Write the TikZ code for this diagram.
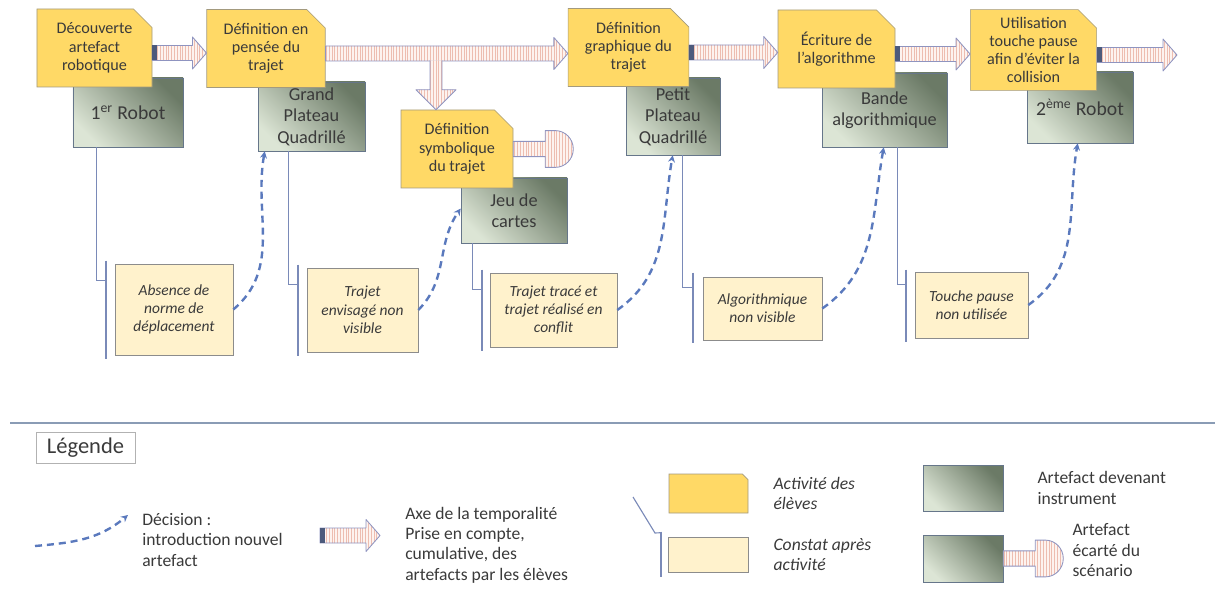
\documentclass[tikz,border=0pt]{standalone}
\usepackage{fontspec}
\setmainfont{Carlito}
\usepackage{tikz}
\usetikzlibrary{shapes.misc, arrows.meta, positioning, calc, patterns.meta}
\definecolor{ActYellow}{HTML}{FFD966}
\definecolor{ActEdge}{HTML}{A39A7E}
\definecolor{ConstatFill}{HTML}{FFF2CC}
\definecolor{ConstatEdge}{HTML}{8C8C8C}
\definecolor{ArtLight}{HTML}{DCE5D5}
\definecolor{ArtDark}{HTML}{6B7A66}
\definecolor{ArtEdge}{HTML}{66768A}
\definecolor{CallLine}{HTML}{7A8AB8}
\definecolor{DecisionBlue}{HTML}{5A79BD}
\definecolor{ArrowEdge}{HTML}{8F94C0}
\definecolor{ArrowFill}{HTML}{FDF3EF}
\definecolor{ArrowStripe}{HTML}{EDBDB0}
\definecolor{BarDark}{HTML}{4C5A7C}
\definecolor{RuleBlue}{HTML}{8A9CB5}
\definecolor{TextGray}{HTML}{3A3A3A}
\tikzset{
  % Box styles
  actbox/.style={chamfered rectangle, chamfered rectangle corners=north east, chamfered rectangle xsep=3.5mm, draw=ActEdge, fill=ActYellow, minimum width=28.75mm, minimum height=19.5mm, inner sep=2pt, align=center, text=TextGray, font=\fontsize{11.5}{13}\selectfont},
  artbox/.style={rectangle, draw=ArtEdge, top color=ArtDark, bottom color=ArtLight, shading angle=-45, inner sep=2pt, align=center, text=TextGray, font=\fontsize{13}{15.3}\selectfont},
  constat/.style={rectangle, draw=ConstatEdge, fill=ConstatFill, inner sep=2pt, align=center, text=TextGray, font=\itshape\fontsize{11}{13}\selectfont},
  legendtext/.style={align=left, inner sep=0pt, text=TextGray, font=\fontsize{12.5}{14.5}\selectfont},
  timestart/.style={rectangle, fill=BarDark, draw=none, minimum width=1.25mm, minimum height=3.75mm, inner sep=0pt, outer sep=0pt},
  % Arrow styles
  arrowbody/.style={draw=ArrowEdge, line width=0.6pt, line join=round, preaction={fill=ArrowFill}, pattern={Lines[angle=90, distance=2pt, line width=0.4pt]}, pattern color=ArrowStripe},
  timeline/.style={arrowbody, to path={let \p1=(\tikztostart), \p2=(\tikztotarget) in
    (\x1,\y1+1.875mm) -- (\x2-3.5mm,\y1+1.875mm) -- (\x2-3.5mm,\y1+4mm) -- (\x2,\y1) -- (\x2-3.5mm,\y1-4mm) -- (\x2-3.5mm,\y1-1.875mm) -- (\x1,\y1-1.875mm) -- cycle #1}},
  timeline/.default={(\tikztostart) node[timestart, anchor=west] {}},
  branchdown/.style={arrowbody, to path={let \p1=(\tikztostart), \p2=(\tikztotarget) in
    (\x1-1.5mm,\y1) -- (\x1-1.5mm,\y2+5mm) -- (\x1-5mm,\y2+5mm) -- (\x1,\y2) -- (\x1+5mm,\y2+5mm) -- (\x1+1.5mm,\y2+5mm) -- (\x1+1.5mm,\y1)}},
  rejected/.style={arrowbody, to path={let \p1=(\tikztostart), \p2=(\tikztotarget) in
    (\x1,\y1+1.9mm) -- (\x2-7mm,\y1+1.9mm) -- (\x2-7mm,\y1+4.6mm) -- (\x2-4.5mm,\y1+4.6mm) arc[start angle=90, end angle=-90, x radius=4.5mm, y radius=4.6mm] -- (\x2-7mm,\y1-4.6mm) -- (\x2-7mm,\y1-1.9mm) -- (\x1,\y1-1.9mm) -- cycle}},
  decision/.style={-{Stealth[length=5pt, width=5pt]}, DecisionBlue, line width=1.7pt, dash pattern=on 5pt off 3.5pt},
  calloutline/.style={CallLine, line width=0.8pt},
  calloutbar/.style={CallLine, line width=1.3pt},
  sepline/.style={RuleBlue, line width=1pt}
}

\begin{document}
\begin{tikzpicture}[x=0.25mm, y=0.25mm]
  % Frame
  \useasboundingbox (0,0) rectangle (1215,-597);

  % Artefacts
  \node[artbox, minimum width=27.5mm, minimum height=17.25mm, font=\fontsize{14}{16}\selectfont] (robot1) at (128,-112.5) {1\textsuperscript{er} Robot};
  \node[artbox, minimum width=26.75mm, minimum height=17.25mm] (grand) at (311.5,-116.5) {Grand\\Plateau\\Quadrillé};
  \node[artbox, minimum width=26.5mm, minimum height=16.25mm] (cartes) at (514,-210.5) {Jeu de\\cartes};
  \node[artbox, minimum width=23.5mm, minimum height=19.25mm] (petit) at (673,-116.5) {Petit\\Plateau\\Quadrillé};
  \node[artbox, minimum width=31.25mm, minimum height=18.5mm] (bande) at (884.5,-110) {Bande\\algorithmique};
  \node[artbox, minimum width=26.5mm, minimum height=17.75mm, font=\fontsize{14}{16}\selectfont] (robot2) at (1080,-107.5) {2\textsuperscript{ème} Robot};

  % Activities
  \node[actbox] (decouverte) at (94.5,-48) {Découverte\\artefact\\robotique};
  \node[actbox] (pensee) at (266,-48.5) {Définition en\\pensée du\\trajet};
  \node[actbox, minimum width=28mm] (symbolique) at (457,-149) {Définition\\symbolique\\du trajet};
  \node[actbox] (graphique) at (628.5,-47.5) {Définition\\graphique du\\trajet};
  \node[actbox, minimum width=29.25mm] (ecriture) at (836.5,-49) {Écriture de\\l'algorithme};
  \node[actbox, minimum width=30.75mm] (pause) at (1033.5,-50) {Utilisation\\touche pause\\afin d'éviter la\\collision};

  % Findings
  \node[constat, minimum width=29.5mm, minimum height=22.75mm] (absence) at (174,-309.5) {Absence de\\norme de\\déplacement};
  \node[constat, minimum width=27.75mm, minimum height=21mm] (envisage) at (362.5,-310) {Trajet\\envisagé non\\visible};
  \node[constat, minimum width=31.75mm, minimum height=18.5mm] (conflit) at (553.5,-310) {Trajet tracé et\\trajet réalisé en\\conflit};
  \node[constat, minimum width=29.75mm, minimum height=15.75mm] (invisible) at (762.5,-308.5) {Algorithmique\\non visible};
  \node[constat, minimum width=28.25mm, minimum height=16.5mm] (inutilisee) at (971.5,-305) {Touche pause\\non utilisée};

  % Time axis
  \coordinate (fork) at (436,-60.5);
  \coordinate (suite) at (1177,-55);
  \draw[timeline] ([yshift=-1.25mm]decouverte.east) to (pensee.west);
  \draw[timeline={}] ([yshift=-1.25mm]pensee.east) to (graphique.west);
  \draw[branchdown] (fork) to (symbolique.north);
  \draw[timeline] ([yshift=-1.25mm]graphique.east) to (ecriture.west);
  \draw[timeline] ([yshift=-1.25mm]ecriture.east) to (pause.west);
  \draw[timeline] ([yshift=-1.25mm]pause.east) to (suite);

  % Discarded artefact
  \coordinate (ecart) at ($(symbolique.east)+(60,0)$);
  \draw[rejected] (symbolique.east) to (ecart);

  % Callouts
  \coordinate (j1) at ($(absence.north west)+(-18,-17)$);
  \coordinate (k1) at ($(absence.north west)+(-9,-17)$);
  \draw[calloutline] (j1 |- robot1.south) -- (j1) -- (k1);
  \draw[calloutbar] ($(absence.north west)+(-9,3)$) -- ($(absence.south west)+(-9,-4)$);
  \coordinate (j2) at ($(envisage.north west)+(-18,-17)$);
  \coordinate (k2) at ($(envisage.north west)+(-9,-17)$);
  \draw[calloutline] (j2 |- grand.south) -- (j2) -- (k2);
  \draw[calloutbar] ($(envisage.north west)+(-9,3)$) -- ($(envisage.south west)+(-9,-4)$);
  \coordinate (j3) at ($(conflit.north west)+(-17,-17)$);
  \coordinate (k3) at ($(conflit.north west)+(-8,-17)$);
  \draw[calloutline] (j3 |- cartes.south) -- (j3) -- (k3);
  \draw[calloutbar] ($(conflit.north west)+(-8,3)$) -- ($(conflit.south west)+(-8,-4)$);
  \coordinate (j4) at ($(invisible.north west)+(-20,-11)$);
  \coordinate (k4) at ($(invisible.north west)+(-10,-11)$);
  \draw[calloutline] (j4 |- petit.south) -- (j4) -- (k4);
  \draw[calloutbar] ($(invisible.north west)+(-10,4)$) -- ($(invisible.south west)+(-10,-3)$);
  \coordinate (j5) at ($(inutilisee.north west)+(-17,-13)$);
  \coordinate (k5) at ($(inutilisee.north west)+(-9,-13)$);
  \draw[calloutline] (j5 |- bande.south) -- (j5) -- (k5);
  \draw[calloutbar] ($(inutilisee.north west)+(-9,2)$) -- ($(inutilisee.south west)+(-9,-4)$);

  % Decisions
  \draw[decision] (absence.east) to[out=40, in=-100] ($(grand.south west)+(7,0)$);
  \draw[decision] (envisage.east) to[out=45, in=-125] ($(cartes.west)+(0,2)$);
  \draw[decision] (conflit.east) to[out=35, in=-100] ($(petit.south west)+(47,0)$);
  \draw[decision] (invisible.east) to[out=35, in=-100] ($(bande.south west)+(62,0)$);
  \draw[decision] (inutilisee.east) to[out=35, in=-100] ($(robot2.south west)+(51,0)$);

  % Legend
  \draw[sepline] (10,-423) -- (1215,-423);
  \node[draw=black!30, minimum width=24.75mm, minimum height=7.75mm, text=TextGray, font=\fontsize{16}{18}\selectfont] (legende) at (85.5,-447.5) {Légende};

  \coordinate (dec0) at (35,-546);
  \coordinate (dec1) at (128,-515);
  \draw[decision] (dec0) to[out=5, in=-140] (dec1);
  \node[legendtext, anchor=west] (dectext) at (142,-540) {Décision :\\introduction nouvel\\artefact};

  \coordinate (axe0) at (320,-535.5);
  \coordinate (axe1) at (380,-535.5);
  \draw[timeline] (axe0) to (axe1);
  \node[legendtext, anchor=west] (axetext) at (405,-545) {Axe de la temporalité\\Prise en compte,\\cumulative, des\\artefacts par les élèves};

  \node[actbox, minimum width=19.75mm, minimum height=9.75mm, chamfered rectangle xsep=2mm] (legact) at (708.5,-493.5) {};
  \node[legendtext, font=\itshape\fontsize{12.5}{14.5}\selectfont, right=6.25mm of legact] (legacttext) {Activité des\\élèves};
  \node[constat, minimum width=20mm, minimum height=8.75mm] (legconstat) at (708,-554.5) {};
  \node[legendtext, font=\itshape\fontsize{12.5}{14.5}\selectfont, right=6.25mm of legconstat] (legconstattext) {Constat après\\activité};
  \coordinate (lc0) at (633,-497);
  \coordinate (lc1) at (655,-533);
  \coordinate (lc2) at ($(legconstat.north west)+(-7,4)$);
  \draw[calloutline] (lc0) -- (lc1) -- (lc2);
  \draw[calloutbar] ($(legconstat.north west)+(-7,5)$) -- ($(legconstat.south west)+(-7,-5)$);

  \node[artbox, minimum width=20mm, minimum height=11.5mm] (legart) at (963,-488) {};
  \node[legendtext, right=8.5mm of legart] (legarttext) {Artefact devenant\\instrument};
  \node[artbox, minimum width=20mm, minimum height=11.75mm] (legecart) at (963,-558.5) {};
  \coordinate (legfin) at ($(legecart.east)+(60,0)$);
  \draw[rejected] (legecart.east) to (legfin);
  \node[legendtext, right=2.25mm of legfin, yshift=2.1mm] (legecarttext) {Artefact\\écarté du\\scénario};
\end{tikzpicture}
\end{document}
